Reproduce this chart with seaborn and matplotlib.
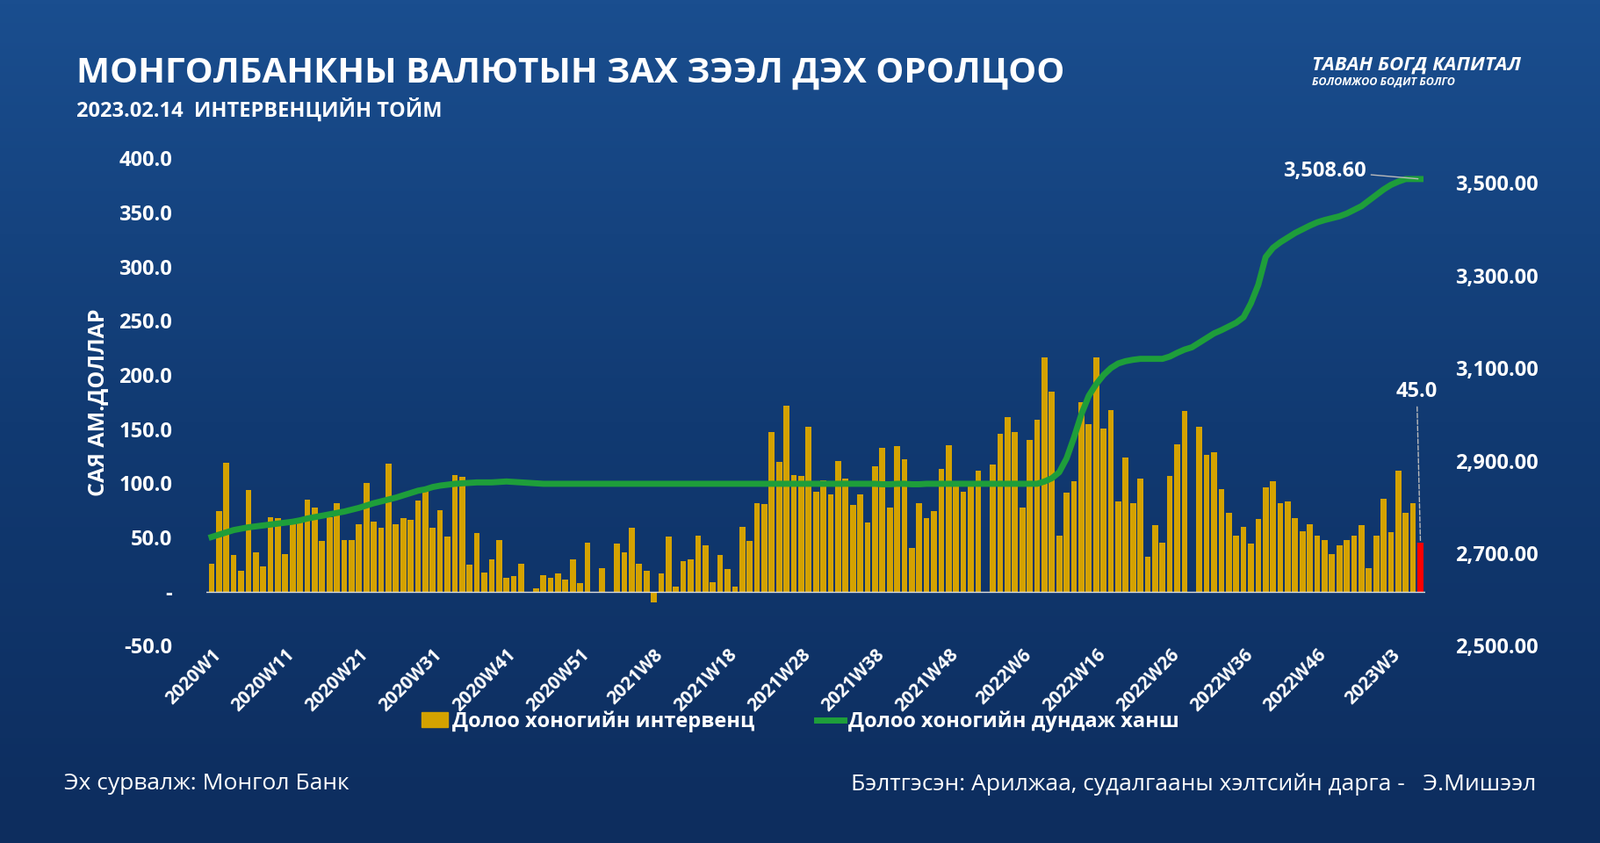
import numpy as np
import pandas as pd
import matplotlib
matplotlib.use("Agg")
import matplotlib.pyplot as plt
import seaborn as sns
from matplotlib.colors import LinearSegmentedColormap
from matplotlib.patches import Rectangle
from matplotlib.lines import Line2D

intervention = [
    26, 74, 119, 34, 19, 94, 36, 23, 69, 68, 35, 62, 65, 85, 78, 47, 69, 82, 48, 48,
    62, 100, 65, 59, 118, 62, 68, 66, 84, 93, 59, 75, 51, 108, 106, 25, 54, 18, 30, 48,
    13, 14, 26, 0, 3, 15, 13, 17, 11, 30, 8, 45, 0, 22, 0, 44, 36, 59, 26, 19,
    -10, 17, 51, 5, 28, 30, 52, 43, 9, 34, 21, 5, 60, 47, 82, 81, 147, 120, 172, 108,
    107, 152, 92, 103, 90, 121, 104, 80, 90, 64, 116, 133, 78, 134, 122, 40, 82, 68, 74, 113,
    135, 97, 92, 97, 112, 0, 117, 146, 161, 147, 78, 140, 159, 216, 185, 52, 91, 102, 175, 155,
    216, 151, 168, 83, 124, 82, 104, 32, 61, 45, 107, 136, 167, 0, 152, 126, 129, 95, 73, 52,
    60, 44, 67, 96, 102, 82, 83, 68, 56, 62, 52, 48, 35, 43, 48, 52, 61, 22, 52, 86,
    55, 112, 73, 82, 45,
]
rate = [
    2735, 2740, 2745, 2750, 2753, 2756, 2758, 2760, 2762, 2764, 2766, 2768, 2771, 2775, 2778, 2781, 2784, 2787, 2790, 2794,
    2798, 2803, 2808, 2812, 2816, 2820, 2825, 2830, 2835, 2838, 2843, 2846, 2848, 2850, 2851, 2852, 2853, 2853, 2853, 2854,
    2855, 2854, 2853, 2852, 2851, 2850, 2850, 2850, 2850, 2850, 2850, 2850, 2850, 2850, 2850, 2850, 2850, 2850, 2850, 2850,
    2850, 2850, 2850, 2850, 2850, 2850, 2850, 2850, 2850, 2850, 2850, 2850, 2850, 2850, 2850, 2850, 2850, 2850, 2850, 2850,
    2850, 2850, 2850, 2850, 2850, 2850, 2850, 2850, 2850, 2850, 2850, 2849, 2849, 2850, 2850, 2849, 2849, 2850, 2850, 2850,
    2850, 2850, 2850, 2850, 2850, 2850, 2850, 2850, 2850, 2850, 2850, 2850, 2850, 2855, 2862, 2875, 2905, 2950, 3000, 3040,
    3065, 3085, 3100, 3110, 3115, 3118, 3120, 3120, 3120, 3120, 3125, 3133, 3140, 3145, 3155, 3165, 3175, 3182, 3190, 3198,
    3210, 3240, 3280, 3340, 3360, 3372, 3382, 3392, 3400, 3408, 3415, 3420, 3424, 3428, 3434, 3442, 3450, 3462, 3474, 3486,
    3496, 3503, 3508.6, 3508.6, 3508.6,
]
tick_labels = ["2020W1", "2020W11", "2020W21", "2020W31", "2020W41", "2020W51", "2021W8", "2021W18",
               "2021W28", "2021W38", "2021W48", "2022W6", "2022W16", "2022W26", "2022W36", "2022W46", "2023W3"]
left_ticks = [-50, 0, 50, 100, 150, 200, 250, 300, 350, 400]
left_labels = ["-50.0", "-", "50.0", "100.0", "150.0", "200.0", "250.0", "300.0", "350.0", "400.0"]
right_ticks = [2500, 2700, 2900, 3100, 3300, 3500]

n = len(intervention)
df = pd.DataFrame({"i": np.arange(n), "v": intervention, "r": rate[:n]})

fig = plt.figure(figsize=(18.22, 9.6), dpi=100)
bg = fig.add_axes([0, 0, 1, 1])
grad = np.linspace(0, 1, 256).reshape(-1, 1)
cm = LinearSegmentedColormap.from_list("bg", ["#1a4e8f", "#113a72", "#0d2d5e"])
bg.imshow(grad, aspect="auto", cmap=cm, extent=[0, 1, 0, 1])
bg.axis("off")

FONT = "Open Sans"
ax = fig.add_axes([0.129, 0.234, 0.762, 0.578])
ax.patch.set_alpha(0)
colors = ["#D4A200"] * (n - 1) + ["#FF0000"]
sns.barplot(data=df, x="i", y="v", hue="i", palette=colors, legend=False, native_scale=True,
            width=0.8, ax=ax, saturation=1)
ax.set_xlim(-0.7, n - 0.3)
ax.set_ylim(-50, 400)
ax.axhline(0, color="#dddddd", lw=1)
ax.set_yticks(left_ticks)
ax.set_yticklabels(left_labels, color="white", fontsize=17, fontweight="bold", family=FONT)
ax.set_xticks(np.arange(0, n, 10)[:len(tick_labels)])
ax.set_xticklabels(tick_labels, rotation=45, ha="right", rotation_mode="anchor", color="white",
                   fontsize=15, fontweight="bold", family=FONT)
ax.tick_params(axis="y", length=0, pad=28)
ax.tick_params(axis="x", length=0, pad=0)
ax.set_xlabel("")
ax.set_ylabel("САЯ АМ.ДОЛЛАР", color="white", fontsize=18, fontweight="bold", family=FONT, labelpad=8)
for s in ax.spines.values():
    s.set_visible(False)

ax2 = ax.twinx()
sns.lineplot(data=df, x="i", y="r", color="#1e9e3a", lw=5, ax=ax2)
ax2.set_ylim(2500, 3553)
ax2.set_yticks(right_ticks)
ax2.set_yticklabels([f"{t:,.2f}" for t in right_ticks], color="white", fontsize=17,
                    fontweight="bold", family=FONT)
ax2.tick_params(length=0, pad=24)
ax2.set_ylabel("")
for s in ax2.spines.values():
    s.set_visible(False)

ax.annotate(f"{intervention[-1]:.1f}", xy=(n - 1, intervention[-1]), xytext=(n - 1.5, 180),
            color="white", fontsize=17, fontweight="bold", family=FONT, ha="center",
            arrowprops=dict(arrowstyle="-", color="#bbbbbb", ls="--", lw=1))
ax2.annotate(f"{rate[n-1]:,.2f}", xy=(n - 1, rate[n - 1]), xytext=(n - 14, 3515),
             color="white", fontsize=17, fontweight="bold", family=FONT, ha="center",
             arrowprops=dict(arrowstyle="-", color="#bbbbbb", lw=1))

fig.text(0.048, 0.913, "МОНГОЛБАНКНЫ ВАЛЮТЫН ЗАХ ЗЭЭЛ ДЭХ ОРОЛЦОО", color="white", fontsize=29,
         fontweight="bold", family=FONT, va="center")
fig.text(0.048, 0.87, "2023.02.14  ИНТЕРВЕНЦИЙН ТОЙМ", color="white", fontsize=17,
         fontweight="bold", family=FONT, va="center")
fig.text(0.82, 0.923, "ТАВАН БОГД КАПИТАЛ", color="white", fontsize=16, fontweight="bold",
         style="italic", family=FONT, va="center")
fig.text(0.82, 0.903, "БОЛОМЖОО БОДИТ БОЛГО", color="white", fontsize=9, fontweight="bold",
         style="italic", family=FONT, va="center")

handles = [Rectangle((0, 0), 1, 1, color="#D4A200"), Line2D([0], [0], color="#1e9e3a", lw=5)]
fig.legend(handles, ["Долоо хоногийн интервенц", "Долоо хоногийн дундаж ханш"], loc="center",
           bbox_to_anchor=(0.5, 0.144), ncol=2, frameon=False, handlelength=1.3, columnspacing=3,
           prop=dict(family=FONT, size=17, weight="bold"), labelcolor="white", handletextpad=0.2)

fig.text(0.04, 0.07, "Эх сурвалж: Монгол Банк", color="white", fontsize=19, family=FONT, va="center")
fig.text(0.96, 0.07, "Бэлтгэсэн: Арилжаа, судалгааны хэлтсийн дарга -   Э.Мишээл", color="white",
         fontsize=19, family=FONT, va="center", ha="right")

fig.savefig("out.png", dpi=100)
